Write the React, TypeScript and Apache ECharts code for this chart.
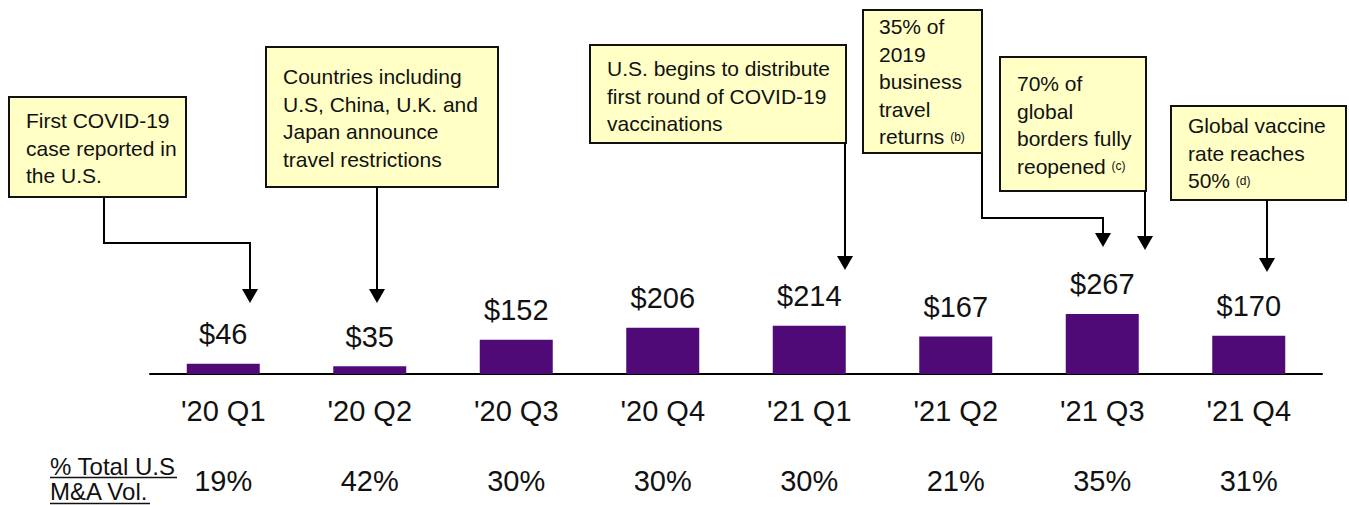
import React, { useEffect, useRef } from "react";
import * as echarts from "echarts";

const categories = ["'20 Q1", "'20 Q2", "'20 Q3", "'20 Q4", "'21 Q1", "'21 Q2", "'21 Q3", "'21 Q4"];
const volumes = [46, 35, 152, 206, 214, 167, 267, 170];
const shareOfMA = ["19%", "42%", "30%", "30%", "30%", "21%", "35%", "31%"];
const rowTitleLines = ["% Total U.S", "M&A Vol."];

const FONT = "'Liberation Sans', Arial, Helvetica, sans-serif";
const BAR = "#500a78";
const BOX_FILL = "#ffffc6";

type Note = {
  box: [number, number, number, number];
  textX: number;
  textTop: number;
  lines: string[];
  arrow: number[][];
};

const notes: Note[] = [
  {
    box: [9, 97, 177, 100],
    textX: 26,
    textTop: 107,
    lines: ["First COVID-19", "case reported in", "the U.S."],
    arrow: [[104, 197], [104, 243], [250, 243], [250, 290]],
  },
  {
    box: [266, 47, 232, 140],
    textX: 283,
    textTop: 63,
    lines: ["Countries including", "U.S, China, U.K. and", "Japan announce", "travel restrictions"],
    arrow: [[377, 187], [377, 290]],
  },
  {
    box: [590, 45, 256, 98],
    textX: 607,
    textTop: 55,
    lines: ["U.S. begins to distribute", "first round of COVID-19", "vaccinations"],
    arrow: [[845, 143], [845, 257]],
  },
  {
    box: [863, 10, 119, 143],
    textX: 879,
    textTop: 13,
    lines: ["35% of", "2019", "business", "travel", "returns {s|(b)}"],
    arrow: [[982, 153], [982, 218], [1103, 218], [1103, 234]],
  },
  {
    box: [1000, 57, 146, 134],
    textX: 1017,
    textTop: 70,
    lines: ["70% of", "global", "borders fully", "reopened {s|(c)}"],
    arrow: [[1145, 191], [1145, 237]],
  },
  {
    box: [1171, 106, 175, 94],
    textX: 1188,
    textTop: 112,
    lines: ["Global vaccine", "rate reaches", "50% {s|(d)}"],
    arrow: [[1267, 200], [1267, 259]],
  },
];

function buildGraphics() {
  const g: any[] = [];
  notes.forEach((n) => {
    const [x, y, w, h] = n.box;
    g.push({
      type: "rect",
      shape: { x, y, width: w, height: h },
      style: { fill: BOX_FILL, stroke: "#111", lineWidth: 2 },
      z: 10,
    });
    g.push({
      type: "text",
      x: n.textX,
      y: n.textTop,
      style: {
        text: n.lines.join("\n"),
        fontSize: 21,
        fontFamily: FONT,
        fill: "#111",
        lineHeight: 27.5,
        align: "left",
        verticalAlign: "top",
        rich: {
          s: { fontSize: 12, fontFamily: FONT, fill: "#111", lineHeight: 27.5, verticalAlign: "middle" },
        },
      },
      z: 11,
    });
    const pts = n.arrow;
    g.push({
      type: "polyline",
      shape: { points: pts },
      style: { stroke: "#000", lineWidth: 2, fill: null },
      z: 10,
    });
    const last = pts[pts.length - 1];
    g.push({
      type: "polygon",
      shape: {
        points: [
          [last[0] - 8, last[1] - 1],
          [last[0] + 8, last[1] - 1],
          [last[0], last[1] + 13],
        ],
      },
      style: { fill: "#000" },
      z: 10,
    });
  });
  // Row title with underline
  const baselines = [475, 500];
  const underlineY = [477.5, 503.5];
  const widths = [127, 100];
  rowTitleLines.forEach((t, i) => {
    g.push({
      type: "text",
      x: 50,
      y: baselines[i] - 8.3,
      style: {
        text: t,
        fontSize: 24,
        fontFamily: FONT,
        fill: "#111",
        align: "left",
        verticalAlign: "middle",
      },
    });
    g.push({
      type: "line",
      shape: { x1: 50, y1: underlineY[i], x2: 50 + widths[i], y2: underlineY[i] },
      style: { stroke: "#111", lineWidth: 1.5 },
    });
  });
  return g;
}

export default function App() {
  const ref = useRef<HTMLDivElement>(null);
  useEffect(() => {
    if (!ref.current) return;
    const chart = echarts.init(ref.current, null, { renderer: "svg" });
    chart.setOption({
      animation: false,
      backgroundColor: "#ffffff",
      textStyle: { fontFamily: FONT },
      grid: { left: 150, right: 27, top: 14, bottom: 131, containLabel: false },
      xAxis: [
        {
          type: "category",
          data: categories,
          position: "bottom",
          axisLine: { show: true, lineStyle: { color: "#000", width: 2 } },
          axisTick: { show: false },
          axisLabel: { color: "#111", fontSize: 29, fontFamily: FONT, margin: 22, interval: 0 },
        },
        {
          type: "category",
          data: shareOfMA,
          position: "bottom",
          offset: 82,
          axisLine: { show: false },
          axisTick: { show: false },
          axisLabel: { color: "#111", fontSize: 29, fontFamily: FONT, margin: 10, interval: 0 },
        },
      ],
      yAxis: {
        type: "value",
        min: 0,
        max: 1600,
        show: false,
        splitLine: { show: false },
      },
      series: [
        {
          type: "bar",
          xAxisIndex: 0,
          data: volumes,
          barWidth: 73,
          itemStyle: { color: BAR },
          label: {
            show: true,
            position: "top",
            distance: 15,
            formatter: (p: any) => `$${p.value}`,
            color: "#111",
            fontSize: 29,
            fontFamily: FONT,
          },
        },
      ],
      graphic: buildGraphics(),
    });
    return () => chart.dispose();
  }, []);
  return (
    <div
      ref={ref}
      style={{ position: "fixed", left: 0, top: 0, width: 1349, height: 505, background: "#fff" }}
    />
  );
}
